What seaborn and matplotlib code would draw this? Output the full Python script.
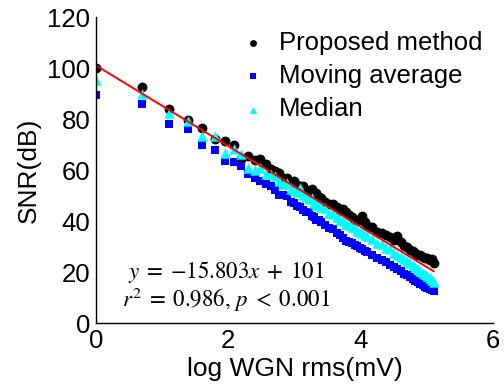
import numpy as np
import pandas as pd
import matplotlib
matplotlib.use("Agg")
import matplotlib.pyplot as plt
import seaborn as sns

# WGN rms levels (mV) used in the test
rms = [1, 2, 3, 4, 5, 6, 7, 8, 9, 10, 11, 12, 13, 14, 15, 16, 17, 18, 19, 20,
       21, 22, 23, 24, 25, 26, 27, 28, 29, 30, 32, 34, 36, 38, 40, 42, 44, 46,
       48, 50, 52, 54, 56, 58, 60, 65, 70, 75, 80, 85, 90, 95, 100, 105, 110,
       115, 120, 125, 130, 135, 140, 145, 150, 155, 160, 165]

# SNR (dB)
snr_proposed = [100.0, 92.4, 84.0, 79.5, 76.6, 72.0, 71.4, 70.0, 64.2, 65.5,
                64.0, 64.2, 62.2, 60.3, 59.5, 59.0, 57.0, 56.8, 55.2, 55.9,
                54.0, 53.6, 53.9, 52.1, 51.5, 52.4, 50.3, 51.0, 49.6, 49.0,
                47.5, 46.8, 46.9, 45.6, 44.5, 44.8, 43.5, 42.4, 41.6, 40.6,
                40.5, 40.3, 42.0, 39.5, 38.0, 37.6, 35.9, 35.2, 34.6, 33.9,
                32.6, 34.0, 31.8, 30.3, 30.0, 28.7, 28.4, 27.6, 26.8, 26.9,
                26.0, 25.4, 25.6, 24.9, 25.0, 23.6]
snr_moving = [89.5, 86.0, 78.2, 76.0, 70.0, 68.0, 63.6, 63.0, 61.6, 58.3,
              57.0, 55.7, 54.5, 53.7, 52.0, 50.4, 50.1, 49.8, 47.5, 47.0,
              45.8, 45.6, 44.2, 43.5, 43.4, 42.0, 41.6, 40.5, 40.4, 39.6,
              38.5, 37.3, 36.8, 35.4, 34.5, 33.3, 32.1, 32.0, 31.4, 30.7,
              30.2, 29.6, 29.0, 28.3, 27.9, 26.7, 25.6, 24.7, 23.8, 22.9,
              21.9, 21.2, 20.5, 19.4, 18.9, 18.1, 17.2, 16.7, 16.0, 15.4,
              14.8, 14.2, 13.8, 13.4, 12.8, 12.5]
snr_median = [95.5, 90.0, 82.2, 79.3, 73.4, 73.4, 66.6, 68.2, 66.5, 61.0,
              60.0, 61.0, 58.6, 58.5, 57.5, 55.8, 54.5, 54.8, 52.6, 52.0,
              51.4, 53.0, 50.2, 49.4, 48.6, 48.9, 47.2, 46.5, 46.2, 45.6,
              45.0, 43.1, 42.9, 41.6, 40.5, 40.0, 38.9, 38.4, 37.6, 37.5,
              36.1, 35.8, 35.3, 34.6, 34.0, 32.9, 31.6, 31.0, 29.5, 28.9,
              27.6, 26.8, 25.9, 25.1, 24.3, 23.6, 22.7, 22.1, 21.3, 20.6,
              19.8, 19.1, 18.5, 17.7, 17.0, 16.3]

# regression reported on the figure
fit_slope = -15.803
fit_intercept = 101

df = pd.DataFrame({
    "logrms": np.log(rms),
    "proposed": snr_proposed,
    "moving": snr_moving,
    "median": snr_median,
})

sns.set_style("white")
plt.rcParams["font.family"] = ["Liberation Sans", "DejaVu Sans"]
plt.rcParams["mathtext.fontset"] = "stix"
plt.rcParams["text.color"] = "black"
plt.rcParams["axes.labelcolor"] = "black"

fig = plt.figure(figsize=(5.04, 3.87), dpi=100)
ax = fig.add_axes([0.1905, 0.165, 0.7875, 0.791])

sns.scatterplot(data=df, x="logrms", y="proposed", ax=ax, color="black",
                marker="o", s=50, linewidth=0, label="Proposed method")
sns.scatterplot(data=df, x="logrms", y="moving", ax=ax, color="#0000ff",
                marker="s", s=40, linewidth=0, label="Moving average")
sns.scatterplot(data=df, x="logrms", y="median", ax=ax, color="#00ffff",
                marker="^", s=56, linewidth=0, label="Median")

# fitted line over the data range
xl = np.array([df["logrms"].min(), df["logrms"].max()])
sns.lineplot(x=xl, y=fit_slope * xl + fit_intercept, ax=ax, color="red",
             linewidth=1.4, legend=False)

ax.set_xlim(0, 6)
ax.set_ylim(0, 120)
ax.set_xticks([0, 2, 4, 6])
ax.set_yticks([0, 20, 40, 60, 80, 100, 120])
ax.tick_params(direction="in", length=4, width=0.8, labelsize=18.5,
               colors="black", pad=4)
ax.set_xlabel("log WGN rms(mV)", fontsize=19, labelpad=3)
ax.set_ylabel("SNR(dB)", fontsize=19, labelpad=5)
for side in ["top", "right"]:
    ax.spines[side].set_visible(False)
for side in ["left", "bottom"]:
    ax.spines[side].set_color("black")
    ax.spines[side].set_linewidth(1.0)

ax.legend(frameon=False, loc="upper left", bbox_to_anchor=(0.305, 1.03),
          fontsize=18.5, handlelength=1.0, handletextpad=0.5, labelspacing=0.36,
          markerscale=0.7, borderpad=0.4)

ax.text(1.96, 20, r"$y\;=\;{-}15.803x\;+\;101$", fontsize=16.5,
        ha="center", va="center")
ax.text(1.96, 9, r"$r^2\;=\;0.986,\,p\;<\;0.001$", fontsize=16.5,
        ha="center", va="center")

fig.savefig("out.png", dpi=100)
